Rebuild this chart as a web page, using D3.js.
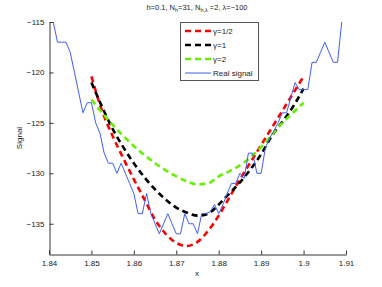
<!DOCTYPE html>
<html>
<head>
<meta charset="utf-8">
<script src="https://cdn.jsdelivr.net/npm/d3@7"></script>
<style>
  body { margin: 0; background: #fff; }
  svg { display: block; font-family: "Liberation Sans", Arial, sans-serif; }
</style>
</head>
<body>
<svg id="mainFrame"></svg>
<script>
const width = 382;
const height = 287;

// tick labels
const xTicks = [1.84, 1.85, 1.86, 1.87, 1.88, 1.89, 1.9, 1.91];
const yTicks = [-135, -130, -125, -120, -115];

// measured signal, one sample per 0.001 from x = 1.841
const signalStart = 1.841;
const signalStep = 0.001;
const signal = [
    -115, -117, -117, -117, -118, -120, -122, -124, -123, -123,
    -125, -126, -128, -129, -129, -130, -129, -130, -131, -132,
    -134, -134, -132, -134, -135, -136, -135, -134, -135, -136,
    -136, -134, -135, -135, -136, -134, -134, -133.8, -133.1, -134,
    -133.1, -132, -131, -131, -130, -130.5, -128, -128, -130, -130,
    -127.5, -126.5, -125.8, -125, -124, -124, -122.5, -121, -121.7, -121.7,
    -121.7, -119, -119, -118, -117, -118, -119, -119, -115
];

// fitted curves read at these x positions
const fitX = [1.85, 1.8525, 1.855, 1.8575, 1.86, 1.8625, 1.865, 1.8675, 1.87, 1.8725,
              1.875, 1.8775, 1.88, 1.8825, 1.885, 1.8875, 1.89, 1.8925, 1.895, 1.8975, 1.9];
const fitHalf = [-120.4, -123.8, -126.3, -128.5, -130.6, -132.6, -134.6, -136.0, -136.9, -137.2,
                 -136.8, -135.7, -134.2, -132.4, -130.6, -128.9, -127.2, -125.5, -123.8, -122.1, -120.4];
const fitOne = [-121.0, -123.4, -125.6, -127.4, -129.0, -130.4, -131.6, -132.6, -133.4, -133.9,
                -134.2, -134.0, -133.1, -132.0, -130.9, -129.6, -128.1, -126.3, -124.9, -123.4, -121.6];
const fitTwo = [-122.7, -124.0, -125.2, -126.3, -127.3, -128.2, -129.0, -129.7, -130.3, -130.8,
                -131.1, -131.0, -130.3, -129.8, -129.2, -128.4, -127.4, -126.2, -125.0, -124.0, -123.0];

const series = [
    { name: "γ=1/2", values: fitHalf, color: "#ff0000" },
    { name: "γ=1", values: fitOne, color: "#000000" },
    { name: "γ=2", values: fitTwo, color: "#66f000" }
];
const signalName = "Real signal";
const signalColor = "#3d5eff";

const x = d3.scaleLinear().domain([1.84, 1.91]).range([49, 346]);
const y = d3.scaleLinear().domain([-138, -115]).range([254, 22]);

const svg = d3.select("#mainFrame")
    .attr("width", width)
    .attr("height", height);

const fmtMinus = s => String(s).replace("-", "\u2212");

// axes (MATLAB style, inward ticks, no box)
const xAxis = svg.append("g")
    .attr("transform", "translate(0,254.5)")
    .call(d3.axisBottom(x).tickValues(xTicks).tickSize(-4).tickSizeOuter(0).tickPadding(6)
        .tickFormat(d => d3.format("")(+d.toFixed(2))));
const yAxis = svg.append("g")
    .attr("transform", "translate(49.5,0)")
    .call(d3.axisLeft(y).tickValues(yTicks).tickSize(-4).tickSizeOuter(0).tickPadding(5)
        .tickFormat(fmtMinus));

[xAxis, yAxis].forEach(a => {
    a.select(".domain").attr("stroke", "#333");
    a.selectAll(".tick line").attr("stroke", "#333");
    a.selectAll("text").attr("font-size", 8).attr("fill", "#222")
        .attr("font-family", "Liberation Sans, Arial, sans-serif");
});

// fitted dashed curves
const line = d3.line().curve(d3.curveMonotoneX);
series.forEach(s => {
    svg.append("path")
        .attr("d", line(fitX.map((v, i) => [x(v), y(s.values[i])])))
        .attr("fill", "none")
        .attr("stroke", s.color)
        .attr("stroke-width", 2.6)
        .attr("stroke-dasharray", "6,4");
});

// real signal
svg.append("path")
    .attr("d", d3.line()(signal.map((v, i) => [x(signalStart + i * signalStep), y(v)])))
    .attr("fill", "none")
    .attr("stroke", signalColor)
    .attr("stroke-width", 1);

// title
const title = svg.append("text")
    .attr("x", 197)
    .attr("y", 10)
    .attr("text-anchor", "middle")
    .attr("font-size", 7.5)
    .attr("fill", "#222");
title.append("tspan").text("h=0.1,  N");
title.append("tspan").attr("font-size", 5.5).attr("dy", 2).text("h");
title.append("tspan").attr("dy", -2).text("=31,  N");
title.append("tspan").attr("font-size", 5.5).attr("dy", 2).text("h,λ");
title.append("tspan").attr("dy", -2).text(" =2,  λ=\u2212100");

// axis labels
svg.append("text")
    .attr("x", 197)
    .attr("y", 276)
    .attr("text-anchor", "middle")
    .attr("font-size", 8)
    .attr("fill", "#222")
    .text("x");
svg.append("text")
    .attr("transform", "translate(22,138) rotate(-90)")
    .attr("text-anchor", "middle")
    .attr("font-size", 8)
    .attr("fill", "#222")
    .text("Signal");

// legend
const legend = svg.append("g");
legend.append("rect")
    .attr("x", 180.5).attr("y", 22.5)
    .attr("width", 78).attr("height", 58)
    .attr("fill", "#fff")
    .attr("stroke", "#555");
const legendItems = series.map(s => ({ name: s.name, color: s.color, dash: true }))
    .concat([{ name: signalName, color: signalColor, dash: false }]);
legendItems.forEach((d, i) => {
    const ly = 31 + i * 14;
    legend.append("line")
        .attr("x1", 185).attr("x2", 211)
        .attr("y1", ly).attr("y2", ly)
        .attr("stroke", d.color)
        .attr("stroke-width", d.dash ? 2.6 : 1)
        .attr("stroke-dasharray", d.dash ? "6,4" : null);
    legend.append("text")
        .attr("x", 213).attr("y", ly)
        .attr("dy", "0.35em")
        .attr("font-size", 8)
        .attr("fill", "#222")
        .text(d.name);
});
</script>
</body>
</html>
